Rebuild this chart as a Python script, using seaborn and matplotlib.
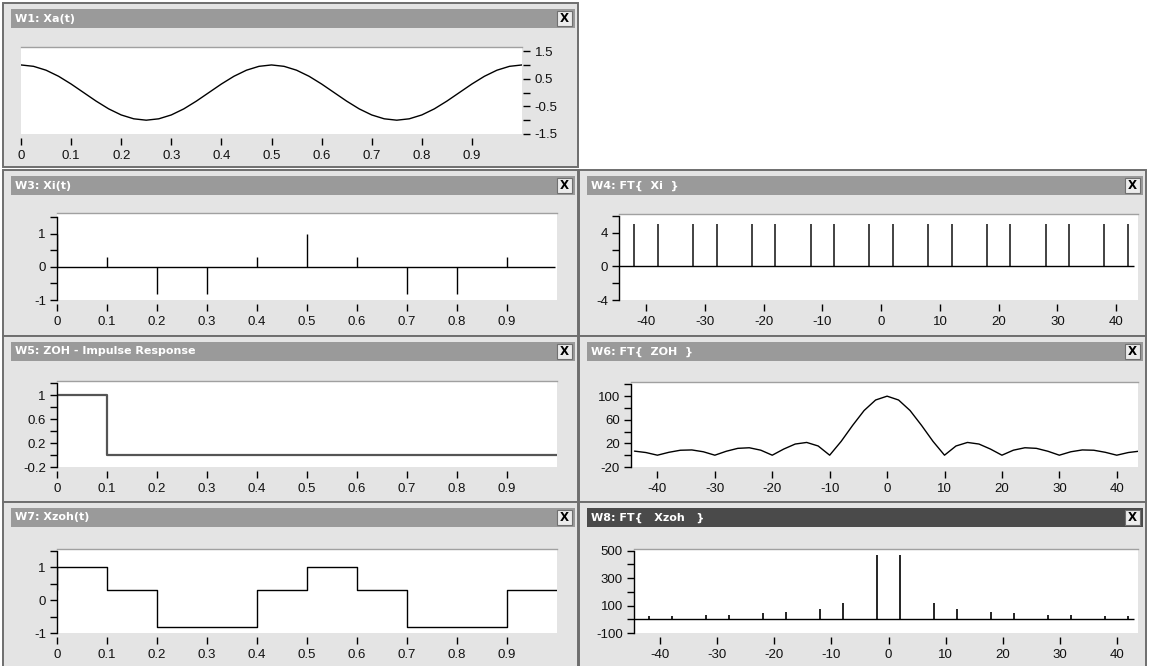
import numpy as np
import seaborn as sns
import matplotlib
matplotlib.use("Agg")
import matplotlib.pyplot as plt
from matplotlib.patches import Rectangle

#### data
# W1: Xa(t), sampled every 0.025 s
t_cont = np.arange(0, 1.0001, 0.025)
xa_vals = [1, 0.95, 0.81, 0.59, 0.31, 0, -0.31, -0.59, -0.81, -0.95,
           -1, -0.95, -0.81, -0.59, -0.31, 0, 0.31, 0.59, 0.81, 0.95,
           1, 0.95, 0.81, 0.59, 0.31, 0, -0.31, -0.59, -0.81, -0.95,
           -1, -0.95, -0.81, -0.59, -0.31, 0, 0.31, 0.59, 0.81, 0.95, 1]

# W3 / W7: samples and their zero order hold
t_samp = [0, 0.1, 0.2, 0.3, 0.4, 0.5, 0.6, 0.7, 0.8, 0.9]
xi_vals = [1, 0.31, -0.81, -0.81, 0.31, 1, 0.31, -0.81, -0.81, 0.31]

# W4: FT{Xi}
f_lines = [-42, -38, -32, -28, -22, -18, -12, -8, -2, 2, 8, 12, 18, 22, 28, 32, 38, 42]
xi_ft = [5] * len(f_lines)

# W5: ZOH impulse response
zoh_t = [0, 0.1, 1.0]
zoh_h = [1, 0, 0]

# W6: FT{ZOH}, every 2 Hz
f_cont = np.arange(-44, 45, 2)
zoh_ft = [6.9, 4.5, 0, 4.9, 8.4, 8.9, 5.8, 0, 6.7, 11.6, 12.6, 8.5, 0, 10.4, 18.9,
          21.6, 15.6, 0, 23.4, 50.5, 75.7, 93.5, 100, 93.5, 75.7, 50.5, 23.4, 0,
          15.6, 21.6, 18.9, 10.4, 0, 8.5, 12.6, 11.6, 6.7, 0, 5.8, 8.9, 8.4, 4.9,
          0, 4.5, 6.9]

# W8: FT{Xzoh}
xzoh_ft = [22, 25, 29, 33, 43, 52, 78, 117, 467, 467, 117, 78, 52, 43, 33, 29, 25, 22]

t_ticks = [0, 0.1, 0.2, 0.3, 0.4, 0.5, 0.6, 0.7, 0.8, 0.9]
t_labels = ["0", "0.1", "0.2", "0.3", "0.4", "0.5", "0.6", "0.7", "0.8", "0.9"]
f_ticks = [-40, -30, -20, -10, 0, 10, 20, 30, 40]
f_labels = ["-40", "-30", "-20", "-10", "0", "10", "20", "30", "40"]

sns.set_style("white")
plt.rcParams['font.family'] = ['Liberation Sans', 'DejaVu Sans']
plt.rcParams['axes.unicode_minus'] = False

W, H = 1149, 666
fig = plt.figure(figsize=(W / 100, H / 100), dpi=100, facecolor='white')

WIN_BG = '#e4e4e4'
BAR = '#9a9a9a'
BAR_ACTIVE = '#4a4a4a'


def px_rect(x0, y0, x1, y1, **kw):
	r = Rectangle((x0 / W, 1 - y1 / H), (x1 - x0) / W, (y1 - y0) / H,
				  transform=fig.transFigure, **kw)
	fig.add_artist(r)


def window(x0, y0, x1, y1, title, active=False):
	px_rect(x0, y0, x1, y1, facecolor=WIN_BG, edgecolor='#6e6e6e', lw=1.4, zorder=-5)
	bar_top = y0 + 6
	bar_bot = y0 + 25
	px_rect(x0 + 8, bar_top, x1 - 3, bar_bot, facecolor=BAR_ACTIVE if active else BAR,
			edgecolor='none', zorder=-4)
	fig.text((x0 + 12) / W, 1 - (bar_top + bar_bot) / 2 / H, title, color='white',
			 fontsize=8, fontweight='bold', family=['DejaVu Sans'], va='center', ha='left')
	# close button
	px_rect(x1 - 21, bar_top + 2, x1 - 6, bar_bot - 2, facecolor='#ececec',
			edgecolor='#707070', lw=0.8, zorder=-3)
	fig.text((x1 - 13.5) / W, 1 - (bar_top + bar_bot) / 2 / H, "X", color='black',
			 fontsize=8.5, fontweight='bold', family=['DejaVu Sans'], va='center', ha='center')


def panel(x0, y0, x1, y1):
	return fig.add_axes([x0 / W, 1 - y1 / H, (x1 - x0) / W, (y1 - y0) / H])


def style(ax, xlim, ylim, xticks, xlabels, ymajor, ylabels, yminor, side='left'):
	ax.set_xlim(xlim)
	ax.set_ylim(ylim)
	ax.set_facecolor('white')
	ax.grid(False)
	ax.set_xlabel('')
	ax.set_ylabel('')
	for s in ax.spines.values():
		s.set_visible(False)
	ax.spines['top'].set_visible(True)
	ax.spines['top'].set_color('#a0a0a0')
	ax.spines['top'].set_linewidth(1)
	ax.spines['bottom'].set_position(('outward', 3))
	ax.set_xticks(xticks, xlabels)
	ax.tick_params(axis='x', which='both', bottom=True, length=5, width=1, color='black',
				   direction='out', pad=3.5, labelsize=9.5, labelcolor='#111111')
	ax.set_yticks(ymajor, ylabels)
	ax.set_yticks(yminor, minor=True)
	if side == 'right':
		ax.yaxis.tick_right()
		ax.spines['right'].set_position(('outward', 1))
	else:
		sp = ax.spines['left']
		sp.set_visible(True)
		sp.set_color('black')
		sp.set_linewidth(1)
		sp.set_bounds(min(ymajor + yminor), max(ymajor + yminor))
		ax.yaxis.tick_left()
	ax.tick_params(axis='y', which='both', length=5, width=1, color='black',
				   direction='out', pad=3, labelsize=9.5, labelcolor='#111111')


F_XLIM = (-44.6, 43.7)

## windows
window(3, 3, 578, 167, "W1: Xa(t)")
window(3, 170, 578, 336, "W3: Xi(t)")
window(579, 170, 1146, 336, "W4: FT{  Xi  }")
window(3, 336, 578, 502, "W5: ZOH - Impulse Response")
window(579, 336, 1146, 502, "W6: FT{  ZOH  }")
window(3, 502, 578, 668, "W7: Xzoh(t)")
window(579, 502, 1146, 668, "W8: FT{   Xzoh   }", active=True)

## W1
ax1 = panel(21, 47, 522, 134)
sns.lineplot(x=t_cont, y=xa_vals, ax=ax1, color='black', lw=1)
style(ax1, (0, 1.0), (-1.5, 1.65), t_ticks, t_labels,
	  [1.5, 0.5, -0.5, -1.5], ["1.5", "0.5", "-0.5", "-1.5"], [1, 0, -1], side='right')

## W3
ax3 = panel(57, 213, 557, 300)
ax3.vlines(t_samp, 0, xi_vals, color='black', lw=1)
ax3.hlines(0, 0, 0.995, color='black', lw=1)
style(ax3, (0, 1.0), (-1, 1.62), t_ticks, t_labels,
	  [1, 0, -1], ["1", "0", "-1"], [1.5, 0.5, -0.5])

## W4
ax4 = panel(619, 214, 1138, 300)
ax4.vlines(f_lines, 0, xi_ft, color='#222222', lw=1.2)
ax4.hlines(0, F_XLIM[0], 43, color='black', lw=1)
style(ax4, F_XLIM, (-4, 6.25), f_ticks, f_labels,
	  [4, 0, -4], ["4", "0", "-4"], [6, 2, -2])

## W5
ax5 = panel(57, 381, 557, 467)
sns.lineplot(x=zoh_t, y=zoh_h, ax=ax5, color='#555555', lw=1.6, drawstyle='steps-post')
ax5.vlines(0, 0, 1, color='#555555', lw=1.6)
style(ax5, (0, 1.0), (-0.2, 1.24), t_ticks, t_labels,
	  [1, 0.6, 0.2, -0.2], ["1", "0.6", "0.2", "-0.2"], [1.2, 0.8, 0.4, 0])

## W6
ax6 = panel(631, 382, 1138, 467)
sns.lineplot(x=f_cont, y=zoh_ft, ax=ax6, color='black', lw=1)
style(ax6, F_XLIM, (-20, 124), f_ticks, f_labels,
	  [100, 60, 20, -20], ["100", "60", "20", "-20"], [120, 80, 40, 0])

## W7
ax7 = panel(57, 549, 557, 633)
sns.lineplot(x=t_samp + [1.0], y=xi_vals + [xi_vals[-1]], ax=ax7, color='black', lw=1,
			 drawstyle='steps-post')
ax7.vlines(0, xi_vals[1], 1, color='black', lw=1)
style(ax7, (0, 1.0), (-1, 1.55), t_ticks, t_labels,
	  [1, 0, -1], ["1", "0", "-1"], [1.5, 0.5, -0.5])

## W8
ax8 = panel(634, 549, 1138, 633)
ax8.vlines(f_lines, 0, xzoh_ft, color='black', lw=1.2)
ax8.hlines(0, F_XLIM[0], 43, color='black', lw=1)
style(ax8, F_XLIM, (-100, 512), f_ticks, f_labels,
	  [500, 300, 100, -100], ["500", "300", "100", "-100"], [400, 200, 0])

fig.savefig("out.png", dpi=100, facecolor='white')
